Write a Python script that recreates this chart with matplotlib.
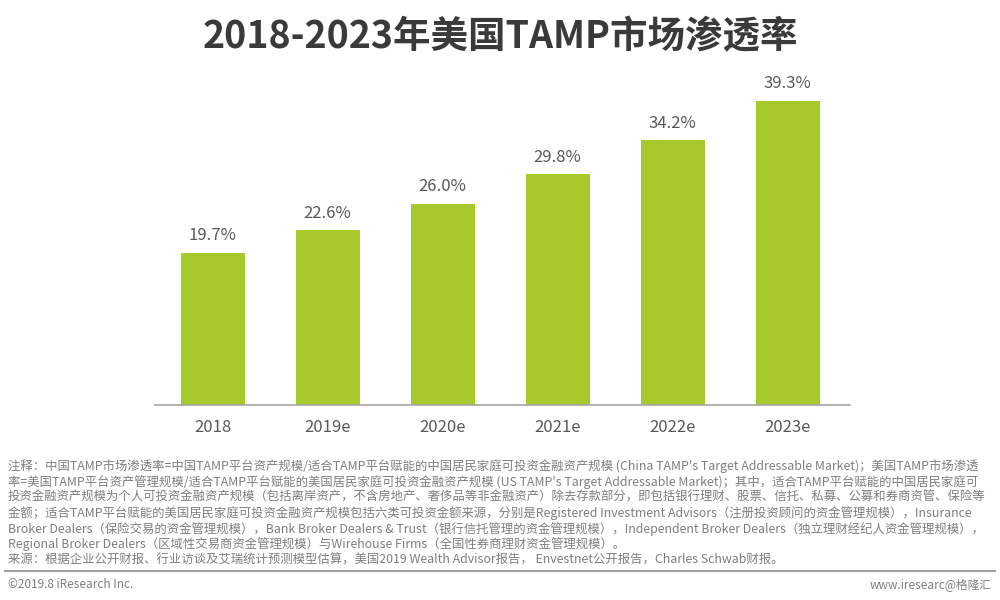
import matplotlib.pyplot as plt

plt.rcParams['font.family'] = ['Noto Sans CJK SC', 'DejaVu Sans']

years = ['2018', '2019e', '2020e', '2021e', '2022e', '2023e']
rates = [19.7, 22.6, 26.0, 29.8, 34.2, 39.3]

title = '2018-2023年美国TAMP市场渗透率'
notes = [
    "注释：中国TAMP市场渗透率=中国TAMP平台资产规模/适合TAMP平台赋能的中国居民家庭可投资金融资产规模 (China TAMP's Target Addressable Market)；美国TAMP市场渗透",
    "率=美国TAMP平台资产管理规模/适合TAMP平台赋能的美国居民家庭可投资金融资产规模 (US TAMP's Target Addressable Market)；其中，适合TAMP平台赋能的中国居民家庭可",
    "投资金融资产规模为个人可投资金融资产规模（包括离岸资产，不含房地产、奢侈品等非金融资产）除去存款部分，即包括银行理财、股票、信托、私募、公募和券商资管、保险等",
    "金额；适合TAMP平台赋能的美国居民家庭可投资金融资产规模包括六类可投资金额来源，分别是Registered Investment Advisors（注册投资顾问的资金管理规模），Insurance",
    "Broker Dealers（保险交易的资金管理规模），Bank Broker Dealers & Trust（银行信托管理的资金管理规模），Independent Broker Dealers（独立理财经纪人资金管理规模），",
    "Regional Broker Dealers（区域性交易商资金管理规模）与Wirehouse Firms（全国性券商理财资金管理规模）。",
    "来源：根据企业公开财报、行业访谈及艾瑞统计预测模型估算，美国2019 Wealth Advisor报告， Envestnet公开报告，Charles Schwab财报。",
]

W, H = 1000, 600
fig = plt.figure(figsize=(10, 6), dpi=100)

# axes placed in pixel terms: baseline at y=405, bar pitch 115px
ax = fig.add_axes([155 / W, (H - 405) / H, 695 / W, 320 / H])
x = range(len(years))
bars = ax.bar(x, rates, width=64 / 115, color='#a8c92c')
ax.set_xlim(-0.5, -0.5 + 695 / 115)
ax.set_ylim(0, 320 / 7.74)
for b, v in zip(bars, rates):
    ax.text(b.get_x() + b.get_width() / 2, v + 1.1, f'{v:.1f}%',
            ha='center', va='bottom', fontsize=12, color='#595959')

ax.set_xticks(list(x))
ax.set_xticklabels(years, fontsize=12, color='#595959')
ax.tick_params(axis='x', length=0, pad=10)
ax.set_yticks([])
for s in ['top', 'right', 'left']:
    ax.spines[s].set_visible(False)
ax.spines['bottom'].set_color('#a6a6a6')
ax.spines['bottom'].set_linewidth(1.2)

fig.text(0.5, (H - 37) / H, title, ha='center', va='center',
         fontsize=27, fontweight='bold', color='#3a3a3a')

for i, line in enumerate(notes):
    y = 466 + i * 15.7
    fig.text(8 / W, (H - y) / H, line, ha='left', va='center',
             fontsize=8.9, color='#7f7f7f')

fig.add_artist(plt.Line2D([5 / W, 995 / W], [(H - 571) / H] * 2,
                          color='#a0a0a0', linewidth=1.5))
fig.text(8 / W, (H - 585) / H, '©2019.8 iResearch Inc.', ha='left', va='center',
         fontsize=8.5, color='#7f7f7f')
fig.text(992 / W, (H - 585) / H, 'www.iresearc@格隆汇', ha='right', va='center',
         fontsize=8.5, color='#7f7f7f')

fig.savefig('out.png', dpi=100)
